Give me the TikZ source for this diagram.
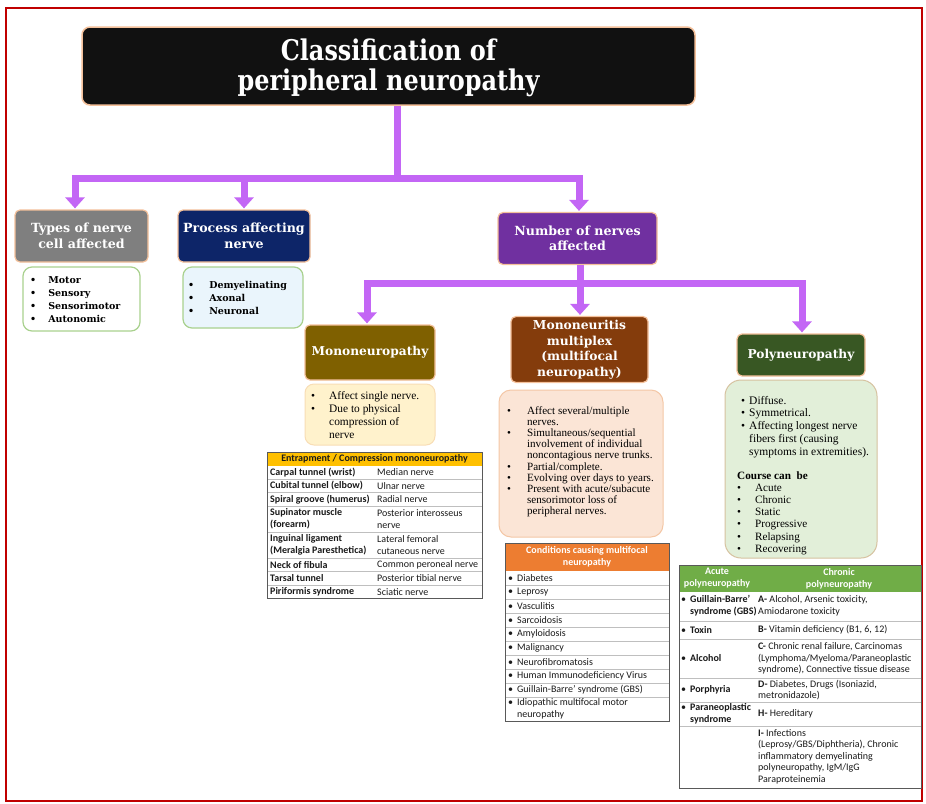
\documentclass[tikz,border=0pt]{standalone}
\usepackage{fontspec}
\setmainfont{Liberation Serif}
\newfontfamily\hdfont{DejaVu Serif}
\newfontfamily\ttlfont{DejaVu Serif}[FakeStretch=0.84]
\newfontfamily\tabfont{Carlito}
\usetikzlibrary{arrows.meta}

\definecolor{frame}{HTML}{C00000}
\definecolor{titlebg}{HTML}{111111}
\definecolor{hdredge}{HTML}{F4C09A}
\definecolor{typesbg}{HTML}{7F7F7F}
\definecolor{procbg}{HTML}{0D2568}
\definecolor{numbg}{HTML}{7030A0}
\definecolor{monobg}{HTML}{7F6000}
\definecolor{multibg}{HTML}{843C0C}
\definecolor{polybg}{HTML}{385723}
\definecolor{conncol}{HTML}{C366F5}
\definecolor{greenedge}{HTML}{A9D18E}
\definecolor{procfill}{HTML}{EAF5FC}
\definecolor{monofill}{HTML}{FFF2CC}
\definecolor{monoedge}{HTML}{F8DDB5}
\definecolor{multifill}{HTML}{FBE5D6}
\definecolor{multiedge}{HTML}{F4C7A6}
\definecolor{polyfill}{HTML}{E2EFD9}
\definecolor{polyedge}{HTML}{D6C2A0}
\definecolor{yellowhd}{HTML}{FFC000}
\definecolor{orangehd}{HTML}{ED7D31}
\definecolor{greenhd}{HTML}{70AD47}
\definecolor{rowrule}{HTML}{BFBFBF}
\definecolor{tabedge}{HTML}{595959}
\definecolor{tabtext}{HTML}{1A1A1A}

\begin{document}
\begin{tikzpicture}[x=1pt,y=-1pt,
  hdr/.style={rounded corners=5pt, draw=hdredge, line width=1.2pt, text=white,
    align=center, inner sep=0pt, font=\hdfont\bfseries\fontsize{12.6}{15.5}\selectfont},
  conn/.style={draw=conncol, line width=7pt},
  arr/.style={conn, -{Triangle[width=19pt,length=11pt]}, shorten >=1pt},
  boldlist/.style={anchor=base west, inner sep=0pt, font=\hdfont\bfseries\fontsize{9.5}{13}\selectfont},
  seriflist/.style={anchor=base west, inner sep=0pt, font=\fontsize{11.4}{13}\selectfont},
  cell/.style={anchor=west, inner sep=0pt, align=left, text=tabtext,
    font=\tabfont\fontsize{10}{12}\selectfont},
  bcell/.style={cell, font=\tabfont\bfseries\fontsize{10}{12}\selectfont},
  pcell/.style={cell, font=\tabfont\fontsize{10}{11.5}\selectfont},
  hcell/.style={inner sep=0pt, align=center, font=\tabfont\bfseries\fontsize{10}{12}\selectfont},
  rowline/.style={draw=rowrule, line width=0.6pt},
  tabframe/.style={draw=tabedge, line width=1pt}
]
\useasboundingbox (0,0) rectangle (926,803);
\fill[white] (0,0) rectangle (926,803);
\draw[frame, line width=2pt] (6,8) rectangle (922,801);

% ---------- headings ----------
\node[hdr, fill=titlebg, rounded corners=8pt, line width=1.5pt,
  minimum width=613, minimum height=78] (title) at (388.5,66) {};
\node[align=center, inner sep=0pt, text=white,
  font=\ttlfont\bfseries\fontsize{28.5}{30}\selectfont] (titleTxt) at (388.5,68)
  {Classification of\\peripheral neuropathy};

\node[hdr, fill=typesbg, minimum width=133, minimum height=52] (types) at (81.5,236)
  {Types of nerve\\cell affected};
\node[hdr, fill=procbg, minimum width=132, minimum height=52] (process) at (244,236)
  {Process affecting\\nerve};
\node[hdr, fill=numbg, minimum width=159, minimum height=52] (number) at (577.5,238.5)
  {Number of nerves\\affected};

\node[hdr, fill=monobg, minimum width=130, minimum height=55,
  font=\hdfont\bfseries\fontsize{12.2}{15}\selectfont] (mono) at (370,352.5)
  {Mononeuropathy};
\node[hdr, fill=multibg, minimum width=137, minimum height=66,
  font=\hdfont\bfseries\fontsize{12.3}{15.6}\selectfont] (multi) at (579.5,349.5)
  {Mononeuritis\\multiplex\\(multifocal\\neuropathy)};
\node[hdr, fill=polybg, minimum width=128, minimum height=42,
  font=\hdfont\bfseries\fontsize{12.2}{15}\selectfont] (poly) at (801,355)
  {Polyneuropathy};

% ---------- connectors ----------
\coordinate (j1) at (397,178);
\coordinate (j2) at (580,283);
\draw[conn] (title.south -| j1) -- ([yshift=3.5]j1);
\draw[arr] (j1) -| ([xshift=-6.5]types.north);
\draw[arr] (j1) -| (process.north);
\draw[arr] (j1) -| ([xshift=1.5]number.north);
\draw[conn] (number.south -| j2) -- ([yshift=3.5]j2);
\draw[arr] (j2) -| ([xshift=-3]mono.north);
\draw[arr] (j2) -| ([xshift=0.5]multi.north);
\draw[arr] (j2) -| ([xshift=1]poly.north);

% ---------- bullet boxes ----------
\draw[draw=greenedge, fill=white, line width=1.2pt, rounded corners=9pt] (23,267) rectangle (140,331);
\node[boldlist] (typesTxt) at (30,283.5)
  {\begin{tabular}[t]{@{}l@{\hspace{12pt}}l@{}}•&Motor\\•&Sensory\\•&Sensorimotor\\•&Autonomic\end{tabular}};

\draw[draw=greenedge, fill=procfill, line width=1.2pt, rounded corners=9pt] (183,267) rectangle (303,328);
\node[boldlist] (procTxt) at (188,288.5)
  {\begin{tabular}[t]{@{}l@{\hspace{15pt}}l@{}}•&Demyelinating\\•&Axonal\\•&Neuronal\end{tabular}};

\draw[draw=monoedge, fill=monofill, line width=1pt, rounded corners=9pt] (305,384) rectangle (435,445);
\node[seriflist] (monoTxt) at (311,399)
  {\begin{tabular}[t]{@{}l@{\hspace{14pt}}l@{}}•&Affect single nerve.\\•&Due to physical\\&compression of\\&nerve\end{tabular}};

\draw[draw=multiedge, fill=multifill, line width=1pt, rounded corners=12pt] (499,390) rectangle (663,537);
\node[seriflist, font=\fontsize{11.1}{11.2}\selectfont] (multiTxt) at (507,414)
  {\begin{tabular}[t]{@{}l@{\hspace{16pt}}l@{}}•&Affect several/multiple\\&nerves.\\•&Simultaneous/sequential\\&involvement of individual\\&noncontagious nerve trunks.\\•&Partial/complete.\\•&Evolving over days to years.\\•&Present with acute/subacute\\&sensorimotor loss of\\&peripheral nerves.\end{tabular}};

\draw[draw=polyedge, fill=polyfill, line width=1pt, rounded corners=16pt] (725,380) rectangle (877,558);
\node[seriflist, font=\fontsize{11.5}{12.9}\selectfont] (polyTxt) at (741,404)
  {\begin{tabular}[t]{@{}l@{\hspace{4pt}}l@{}}•&Diffuse.\\•&Symmetrical.\\•&Affecting longest nerve\\&fibers first (causing\\&symptoms in extremities).\end{tabular}};
\node[seriflist, font=\fontsize{11.2}{12.2}\selectfont] (courseTxt) at (737,479)
  {\begin{tabular}[t]{@{}l@{\hspace{14pt}}l@{}}\multicolumn{2}{@{}l@{}}{\bfseries Course can\ \ be}\\•&Acute\\•&Chronic\\•&Static\\•&Progressive\\•&Relapsing\\•&Recovering\end{tabular}};

% ---------- entrapment table ----------
\fill[white] (267,452) rectangle (482,598.5);
\fill[yellowhd] (267,452) rectangle (482,465.5);
\foreach \y in {479,492.5,506,532,558,571.5,585}
  \draw[rowline] (267,\y) -- (482,\y);
\draw[tabframe] (267,452) rectangle (482,598.5);
\node[hcell, text=tabtext] (eHead) at (374.5,458.8) {Entrapment / Compression mononeuropathy};
\node[bcell] (e1a) at (270,472.2) {Carpal tunnel (wrist)};
\node[cell]  (e1b) at (377,472.2) {Median nerve};
\node[bcell] (e2a) at (270,485.8) {Cubital tunnel (elbow)};
\node[cell]  (e2b) at (377,485.8) {Ulnar nerve};
\node[bcell] (e3a) at (270,499.2) {Spiral groove (humerus)};
\node[cell]  (e3b) at (377,499.2) {Radial nerve};
\node[bcell] (e4a) at (270,519) {Supinator muscle\\(forearm)};
\node[cell]  (e4b) at (377,519) {Posterior interosseus\\nerve};
\node[bcell] (e5a) at (270,545) {Inguinal ligament\\(Meralgia Paresthetica)};
\node[cell]  (e5b) at (377,545) {Lateral femoral\\cutaneous nerve};
\node[bcell] (e6a) at (270,564.8) {Neck of fibula};
\node[cell]  (e6b) at (377,564.8) {Common peroneal nerve};
\node[bcell] (e7a) at (270,578.2) {Tarsal tunnel};
\node[cell]  (e7b) at (377,578.2) {Posterior tibial nerve};
\node[bcell] (e8a) at (270,591.8) {Piriformis syndrome};
\node[cell]  (e8b) at (377,591.8) {Sciatic nerve};

% ---------- multifocal conditions table ----------
\fill[white] (505,543) rectangle (669,721);
\fill[orangehd] (505,543) rectangle (669,571);
\foreach \y in {585,599,613,627,641,655,669,683,697}
  \draw[rowline] (505,\y) -- (669,\y);
\draw[tabframe] (505,543) rectangle (669,721);
\node[hcell, text=white] (cHead) at (587,557) {Conditions causing multifocal\\neuropathy};
\foreach \y/\t [count=\i] in {578/Diabetes, 592/Leprosy, 606/Vasculitis, 620/Sarcoidosis,
    634/Amyloidosis, 648/Malignancy, 662/Neurofibromatosis,
    676/Human Immunodeficiency Virus, 690/Guillain-Barre’ syndrome (GBS)}
  \node[cell] (c\i) at (508,\y) {•\hspace{4pt}\t};
\node[cell] (c10) at (508,709) {\begin{tabular}{@{}l@{\hspace{4pt}}l@{}}•&Idiopathic multifocal motor\\&neuropathy\end{tabular}};

% ---------- polyneuropathy table ----------
\fill[white] (679,565) rectangle (921,788);
\fill[greenhd] (679,565) rectangle (921,592);
\foreach \y in {621,639,678,702,726}
  \draw[rowline] (679,\y) -- (921,\y);
\draw[tabframe] (679,565) rectangle (921,788);
\node[hcell, text=white] (pHeadA) at (717,578.5) {Acute\\polyneuropathy};
\node[hcell, text=white] (pHeadC) at (839,578.5) {Chronic\\polyneuropathy};
\node[pcell] (p1a) at (681,606) {\begin{tabular}{@{}l@{\hspace{4pt}}l@{}}•&\bfseries Guillain-Barre’\\&\bfseries syndrome (GBS)\end{tabular}};
\node[pcell] (p2a) at (681,630) {•\hspace{4pt}\textbf{Toxin}};
\node[pcell] (p3a) at (681,658.5) {•\hspace{4pt}\textbf{Alcohol}};
\node[pcell] (p4a) at (681,690) {•\hspace{4pt}\textbf{Porphyria}};
\node[pcell] (p5a) at (681,714) {\begin{tabular}{@{}l@{\hspace{4pt}}l@{}}•&\bfseries Paraneoplastic\\&\bfseries syndrome\end{tabular}};
\node[pcell] (p1b) at (758,606) {\textbf{A-} Alcohol, Arsenic toxicity,\\Amiodarone toxicity};
\node[pcell] (p2b) at (758,630) {\textbf{B-} Vitamin deficiency (B1, 6, 12)};
\node[pcell] (p3b) at (758,658.5) {\textbf{C-} Chronic renal failure, Carcinomas\\(Lymphoma/Myeloma/Paraneoplastic\\syndrome), Connective tissue disease};
\node[pcell] (p4b) at (758,690) {\textbf{D-} Diabetes, Drugs (Isoniazid,\\metronidazole)};
\node[pcell] (p5b) at (758,714) {\textbf{H-} Hereditary};
\node[pcell] (p6b) at (758,756.5) {\textbf{I-} Infections\\(Leprosy/GBS/Diphtheria), Chronic\\inflammatory demyelinating\\polyneuropathy, IgM/IgG\\Paraproteinemia};
\end{tikzpicture}
\end{document}
